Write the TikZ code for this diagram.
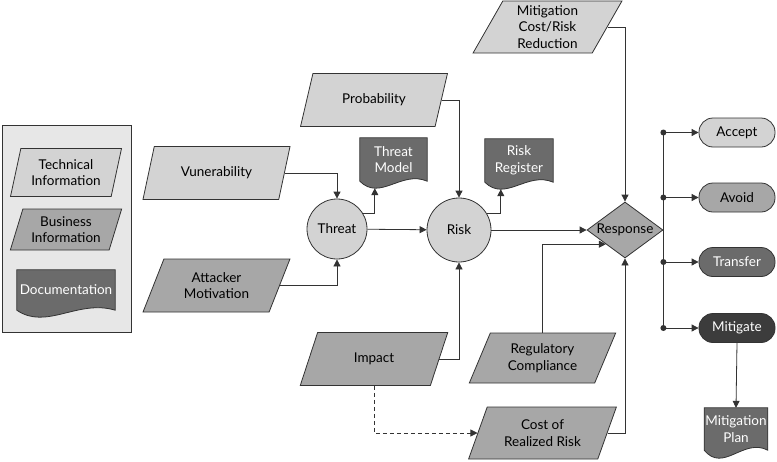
\documentclass[tikz,border=0pt]{standalone}
\usepackage{fontspec}
\setmainfont{Lato}
\usetikzlibrary{shapes.geometric,arrows.meta,calc,backgrounds}
\definecolor{lightg}{HTML}{D3D3D3}
\definecolor{midg}{HTML}{A7A7A7}
\definecolor{darkg}{HTML}{6B6B6B}
\definecolor{darkerg}{HTML}{3C3C3C}
\definecolor{panelg}{HTML}{E7E7E7}
\definecolor{linec}{HTML}{333333}
\newcommand\docwave[3]{%
  \path[draw=linec, line width=0.8pt, fill=#2] let \p1=(#1.south west), \p2=(#1.north east), \n1={\x2-\x1} in
   (\x1,\y1) -- (\x1,\y2) -- (\x2,\y2) -- (\x2,\y1)
   .. controls (\x1+0.62*\n1, \y1+1.6*#3) and (\x1+0.3*\n1, \y1-2.9*#3) .. (\x1,\y1) -- cycle;}
\begin{document}
\begin{tikzpicture}[x=1pt,y=-1pt,
  every node/.style={font=\fontsize{13.5}{16.5}\selectfont, align=center, inner sep=1pt},
  line/.style={draw=linec, line width=0.8pt},
  arr/.style={line, -{Triangle[length=7pt,width=7pt]}},
  para/.style={trapezium, trapezium left angle=65, trapezium right angle=115, trapezium stretches=true,
     line, minimum width=148pt, minimum height=53pt},
  circ/.style={circle, line, fill=lightg, inner sep=0pt},
  docu/.style={rectangle, text=white},
  term/.style={rectangle, rounded corners=14pt, line, minimum width=76pt, minimum height=29pt}]
\useasboundingbox (0,0) rectangle (777,461);

% left panel content
\node[para, trapezium left angle=74, trapezium right angle=106, fill=lightg, minimum width=112pt, minimum height=48pt] (tech) at (66,172.5) {Technical\\Information};
\node[para, trapezium left angle=70, trapezium right angle=110, fill=midg, minimum width=112pt, minimum height=41pt] (biz) at (66,229.5) {Business\\Information};
\node[docu, minimum width=98pt, minimum height=40pt] (doc) at (66,290) {Documentation};

% inputs
\node[para, fill=lightg] (vuln) at (216.5,173) {Vunerability};
\node[para, fill=midg] (att) at (216.5,285.5) {Attacker\\Motivation};
\node[para, fill=lightg] (prob) at (374,100) {Probability};
\node[para, fill=midg] (impact) at (374,359) {Impact};
\node[para, fill=lightg, minimum width=149pt, minimum height=52pt] (mitc) at (547.5,27) {Mitigation\\Cost/Risk\\Reduction};
\node[para, fill=midg, minimum height=50pt] (reg) at (542.5,358) {Regulatory\\Compliance};
\node[para, fill=midg, minimum height=52pt] (cost) at (542.5,433) {Cost of\\Realized Risk};

% process
\node[circ, minimum size=60pt] (threat) at (337,229) {Threat};
\node[circ, minimum size=64pt] (risk) at (459,230) {Risk};
\node[diamond, line, fill=midg, minimum width=76pt, minimum height=56pt, inner sep=0pt, aspect=1.36] (resp) at (625,230) {Response};

% documents
\node[docu, minimum width=67pt, minimum height=43pt] (tm) at (393.5,159.5) {Threat\\Model};
\node[docu, minimum width=68pt, minimum height=43pt] (rr) at (519,160.5) {Risk\\Register};
\node[docu, minimum width=62pt, minimum height=42pt] (plan) at (736,429) {Mitigation\\Plan};

% outcomes
\node[term, fill=lightg] (accept) at (737,132.5) {Accept};
\node[term, fill=midg] (avoid) at (737,197.5) {Avoid};
\node[term, fill=darkg, text=white] (transfer) at (737,262) {Transfer};
\node[term, fill=darkerg, text=white] (mitig) at (737,328) {Mitigate};

\begin{pgfonlayer}{background}
  \draw[draw=linec, line width=0.8pt, fill=panelg] (2,125) rectangle (131,332);
  \docwave{doc}{darkg}{7pt}
  \docwave{tm}{darkg}{7pt}
  \docwave{rr}{darkg}{7pt}
  \docwave{plan}{darkg}{8pt}
\end{pgfonlayer}

% connectors
\draw[arr] (vuln.east) -| (threat.north);
\draw[arr] (att.east) -| (threat.south);
\draw[arr] (threat.30) -| ($(tm.south west)+(15pt,-7pt)$);
\draw[arr] (threat) -- (risk);
\draw[arr] (prob.east) -| (risk.north);
\draw[arr] (impact.east) -| (risk.south);
\draw[arr] (risk.30) -| ($(rr.south west)+(16pt,-7pt)$);
\draw[arr] (risk) -- (resp);
\draw[arr] (mitc.east) -| (resp.north);
\draw[arr] (reg.north) |- (resp.south west);
\draw[arr] (cost.east) -| (resp.south);
\draw[arr, dash pattern=on 4pt off 3pt] (impact.south) |- (cost.west);

\coordinate (b1) at (resp.east |- accept.west);
\coordinate (b2) at (resp.east |- avoid.west);
\coordinate (b3) at (resp.east |- transfer.west);
\coordinate (b4) at (resp.east |- mitig.west);
\draw[line] (b1) -- (b4);
\foreach \b/\t in {b1/accept,b2/avoid,b3/transfer,b4/mitig}{
  \fill[linec] (\b) circle (3pt);
  \draw[arr] (\b) -- (\t.west);
}
\draw[arr] (mitig.south) -- (plan.north);
\end{tikzpicture}
\end{document}
